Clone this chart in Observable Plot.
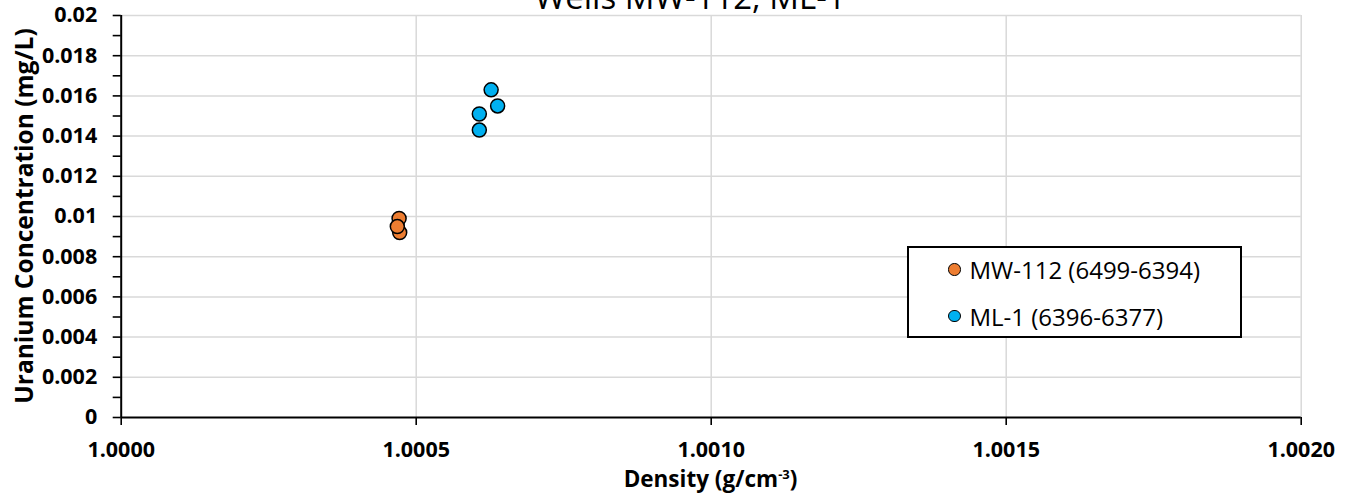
<!DOCTYPE html>
<html>
<head>
<meta charset="utf-8">
<script src="https://cdn.jsdelivr.net/npm/d3@7"></script>
<script src="https://cdn.jsdelivr.net/npm/@observablehq/plot@0.6"></script>
<style>
  html, body { margin: 0; padding: 0; background: #fff; }
  #wrap { position: relative; width: 1354px; height: 497px; overflow: hidden; font-family: "Open Sans", sans-serif; }
  #chart svg { display: block; }
  .axtitle { position: absolute; font-weight: bold; font-size: 22.5px; line-height: 22px; white-space: nowrap; color: #000; }
  .axtitle sup { font-size: 13px; line-height: 0; vertical-align: 8px; }
  #xtitle { left: 0; width: 1421px; text-align: center; top: 468px; }
  #ytitle { width: 440px; text-align: center; left: -196.5px; top: 204px; font-size: 24.5px; line-height: 24px; transform: rotate(-90deg); transform-origin: 220px 12px; }
  #legend { position: absolute; left: 907px; top: 246px; width: 335px; height: 92px; box-sizing: border-box; border: 2px solid #000; background: #fff; }
  .lrow { position: absolute; left: 39px; height: 24px; display: flex; align-items: center; font-size: 24px; white-space: nowrap; color: #000; }
  .lmark { width: 12.5px; height: 12.5px; box-sizing: border-box; border-radius: 50%; border: 1.3px solid #000; margin-right: 9px; }
</style>
</head>
<body>
<div id="wrap">
  <div id="chart"></div>
  <div class="axtitle" id="xtitle">Density (g/cm<sup>-3</sup>)</div>
  <div class="axtitle" id="ytitle">Uranium Concentration (mg/L)</div>
  <div id="legend"></div>
</div>
<script>
// ---- data ----
const seriesNames = ["MW-112 (6499-6394)", "ML-1 (6396-6377)"];
const seriesColors = ["#ED7D31", "#00B0F0"];
const mwDensity = [1.000471, 1.000472, 1.000468];
const mwUranium = [0.0099, 0.0092, 0.0095];
const mlDensity = [1.000627, 1.000638, 1.000607, 1.000607];
const mlUranium = [0.0163, 0.0155, 0.0151, 0.0143];
const xTicks = [1.0000, 1.0005, 1.0010, 1.0015, 1.0020];
const yTicks = [0, 0.002, 0.004, 0.006, 0.008, 0.01, 0.012, 0.014, 0.016, 0.018, 0.02];
const yMinorTicks = [0.001, 0.003, 0.005, 0.007, 0.009, 0.011, 0.013, 0.015, 0.017, 0.019];
const chartTitle = "Wells MW-112, ML-1";

const points = [
  ...mwDensity.map((d, i) => ({series: seriesNames[0], density: d, uranium: mwUranium[i]})),
  ...mlDensity.map((d, i) => ({series: seriesNames[1], density: d, uranium: mlUranium[i]}))
];

const grid = {stroke: "#d9d9d9", strokeOpacity: 1, strokeWidth: 1.5};

const chart = Plot.plot({
  width: 1354,
  height: 497,
  marginLeft: 120.7,
  marginRight: 53.3,
  marginTop: 15,
  marginBottom: 80,
  style: {fontFamily: "Open Sans, sans-serif", fontSize: "21.5px", fontWeight: "bold", color: "#000", background: "#fff"},
  x: {domain: [1.0, 1.002], label: null},
  y: {domain: [0, 0.02], label: null},
  color: {domain: seriesNames, range: seriesColors},
  marks: [
    Plot.gridX(xTicks.slice(1), grid),
    Plot.gridY(yTicks.slice(1), grid),
    Plot.axisY(yMinorTicks, {tickSize: 8, tickFormat: () => "", strokeWidth: 1.6, stroke: "#000"}),
    Plot.axisY(yTicks, {tickSize: 8, tickPadding: 16, strokeWidth: 1.6, stroke: "#000",
      tickFormat: d => String(+d.toFixed(3)), fontSize: 21.5, fontWeight: "bold", fill: "#000"}),
    Plot.axisX(xTicks, {tickSize: 8, tickPadding: 16, strokeWidth: 1.6, stroke: "#000",
      tickFormat: d => d.toFixed(4), fontSize: 21.5, fontWeight: "bold", fill: "#000"}),
    Plot.ruleX([1.0], {stroke: "#000", strokeWidth: 2}),
    Plot.ruleY([0], {stroke: "#000", strokeWidth: 2}),
    Plot.dot(points, {x: "density", y: "uranium", fill: "series", stroke: "#000", strokeWidth: 1.5, r: 7}),
    Plot.text([chartTitle], {frameAnchor: "top", dx: -21, dy: -7, lineAnchor: "bottom",
      fontSize: 33, fontWeight: "normal", fill: "#000"})
  ]
});
document.getElementById("chart").appendChild(chart);

// legend
const legend = document.getElementById("legend");
const rowTops = [9.3, 56];
seriesNames.forEach((name, i) => {
  const row = document.createElement("div");
  row.className = "lrow";
  row.style.top = rowTops[i] + "px";
  const mark = document.createElement("span");
  mark.className = "lmark";
  mark.style.background = seriesColors[i];
  const label = document.createElement("span");
  label.textContent = name;
  row.appendChild(mark);
  row.appendChild(label);
  legend.appendChild(row);
});
</script>
</body>
</html>
